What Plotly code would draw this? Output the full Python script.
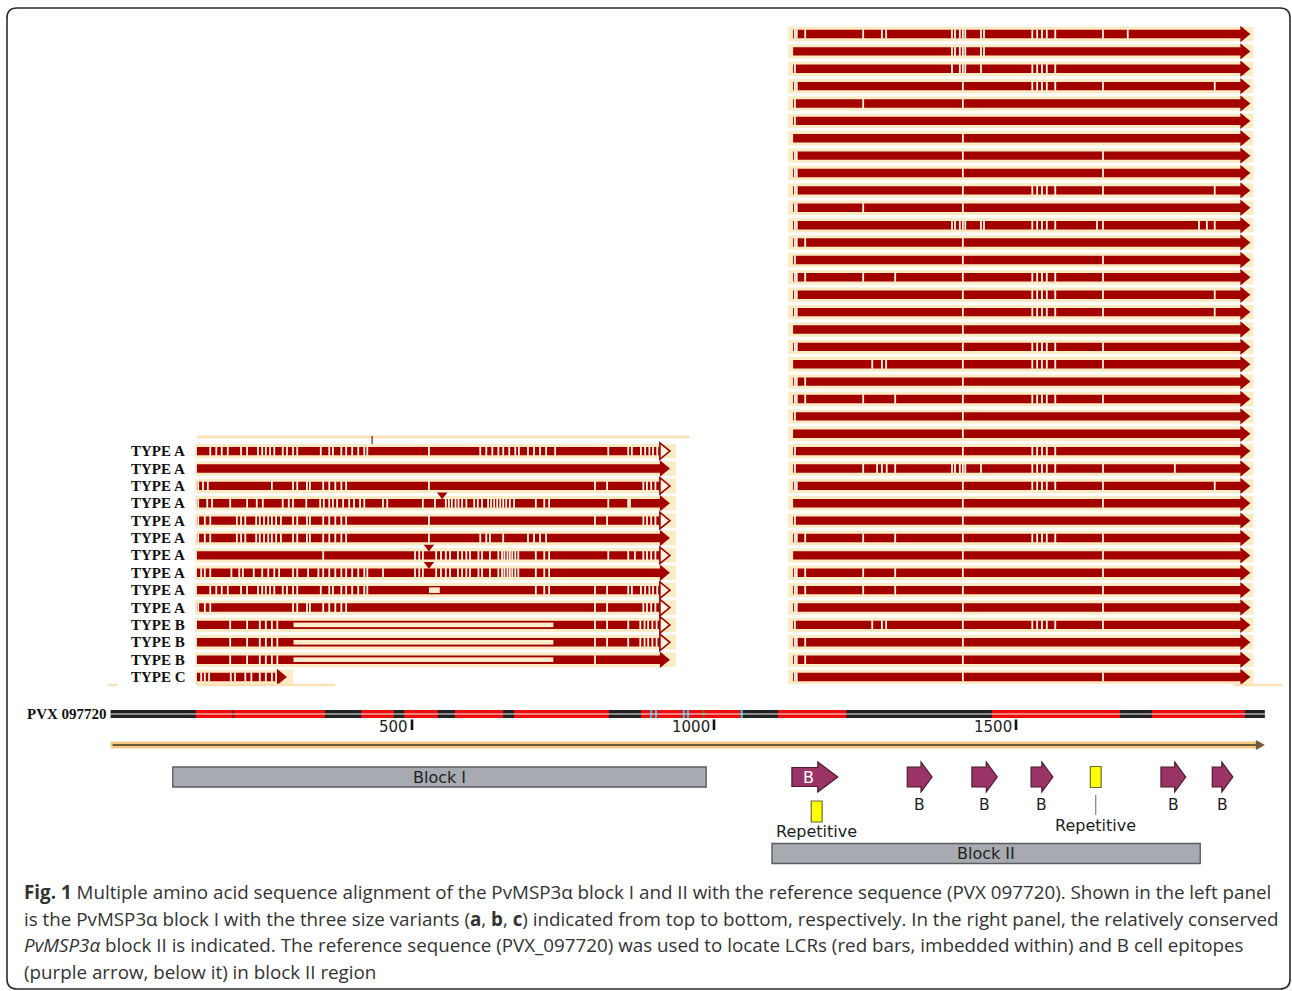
import plotly.graph_objects as go

# ---------------- data ----------------
LEFT_LABELS = ["TYPE A"] * 10 + ["TYPE B"] * 3 + ["TYPE C"]
LEFT_HOLLOW_HEAD = [1, 0, 1, 0, 1, 0, 1, 0, 1, 1, 1, 1, 0, 0]
LEFT_START = 144
LEFT_END = [927] * 13 + [293]
LEFT_VARIANTS = [
    [166, 176, 185, 195, 217, 227, 245, 252, 258, 265, 272, 286, 293, 303, 310, 349, 363, 369, 383, 391, 401, 411,
     421, 426, 528, 613, 623, 633, 643, 651, 661, 671, 677, 692, 702, 712, 722, 737, 825, 858, 864, 879, 886, 893,
     899, 906],
    [],
    [146, 154, 162, 268, 303, 310, 326, 331, 353, 363, 373, 383, 391, 528, 803, 823, 883, 889, 896, 903],
    [146, 161, 169, 199, 227, 243, 253, 286, 296, 303, 325, 348, 354, 363, 369, 376, 386, 396, 404, 414, 421, 452,
     459, 518, 538, 556, 561, 566, 572, 577, 583, 590, 603, 609, 616, 626, 631, 636, 641, 646, 651, 656, 662, 669,
     705, 719, 727, 825, 858, 861],
    [146, 157, 166, 210, 217, 224, 242, 248, 255, 262, 268, 275, 283, 303, 310, 326, 331, 353, 363, 373, 383, 391,
     528, 803, 823, 883, 889, 896, 903],
    [146, 157, 166, 210, 217, 224, 242, 248, 255, 262, 268, 275, 283, 303, 310, 326, 331, 353, 363, 373, 383, 391,
     528, 613, 623, 629, 651, 692, 702, 712, 722],
    [353, 505, 512, 518, 540, 548, 556, 563, 576, 583, 590, 596, 610, 616, 629, 643, 649, 653, 658, 662, 666, 671,
     676, 705, 719, 727, 825, 858, 869, 883, 889, 896, 903],
    [151, 157, 166, 201, 214, 220, 238, 252, 262, 272, 280, 303, 310, 328, 345, 353, 363, 373, 383, 391, 401, 411,
     421, 426, 452, 505, 512, 518, 540, 548, 556, 563, 576, 583, 590, 596, 610, 616, 629, 643, 649, 653, 658, 662,
     666, 671, 676, 705, 719, 727],
    [166, 176, 185, 195, 217, 227, 245, 252, 258, 265, 272, 286, 293, 303, 310, 349, 363, 369, 383, 391, 401, 411,
     421, 426, 705, 719, 727, 803, 823, 858, 864, 879, 886, 893, 899, 906],
    [146, 157, 166, 303, 310, 326, 331, 353, 363, 373, 383, 391, 803, 823, 883, 889, 896, 903],
    [199, 227, 248, 258, 268, 277, 803, 823, 858, 878, 885, 891, 898, 905],
    [199, 227, 248, 258, 268, 277, 803, 823, 858, 878, 885, 891, 898, 905],
    [199, 227, 248, 258, 268, 277, 803],
    [151, 157, 164, 200, 207, 224, 234, 248, 258, 268, 275],
]
DELETION_ROWS = [10, 11, 12]
DELETION_START, DELETION_END = 303, 735
GAP_ROWS = [8]
GAP_START, GAP_END = 528, 546
INSERTION_ROWS = [3, 6, 7]
INSERTION_POS = [550, 528, 528]
LEFT_TOP_MARK = 434

RIGHT_START, RIGHT_END = 1131, 1888
RIGHT_VARIANTS = [
    [1134, 1137, 1151, 1247, 1278, 1285, 1394, 1399, 1407, 1412, 1416, 1442, 1447, 1527, 1535, 1543, 1551, 1565, 1644, 1685],
    [1394, 1399, 1407, 1412, 1416, 1442, 1447],
    [1134, 1394, 1407, 1412, 1416, 1442, 1527, 1535, 1543, 1551, 1565],
    [1134, 1137, 1412, 1527, 1535, 1543, 1551, 1565, 1644, 1829],
    [1134, 1247, 1412],
    [1134],
    [1412],
    [1134, 1137, 1412, 1644],
    [1134, 1137, 1412, 1644],
    [1134, 1137, 1412, 1527, 1535, 1543, 1551, 1565, 1644, 1829],
    [1134, 1137, 1247, 1412],
    [1134, 1137, 1394, 1399, 1407, 1412, 1416, 1442, 1447, 1527, 1535, 1543, 1551, 1565, 1634, 1644, 1803, 1816, 1829],
    [1134, 1137, 1151, 1412],
    [1134, 1412, 1644],
    [1134, 1137, 1151, 1247, 1300, 1412, 1527, 1535, 1543, 1551, 1565, 1644],
    [1134, 1137, 1412, 1527, 1535, 1543, 1551, 1565, 1644, 1829],
    [1134, 1137, 1412, 1527, 1535, 1543, 1551, 1565, 1644, 1829],
    [1412],
    [1134, 1137, 1412, 1527, 1535, 1543, 1551, 1565, 1644],
    [1262, 1278, 1285, 1412, 1527, 1535, 1543, 1551, 1565, 1644],
    [1134, 1137, 1151, 1412],
    [1134, 1137, 1151, 1247, 1300, 1412, 1527, 1535, 1543, 1551, 1565, 1644],
    [1134, 1412],
    [1412],
    [1134, 1412, 1527, 1535, 1543, 1551, 1565],
    [1134, 1247, 1270, 1278, 1286, 1300, 1394, 1399, 1407, 1412, 1416, 1442, 1527, 1535, 1543, 1551, 1565, 1644, 1763],
    [1134, 1137, 1412, 1527, 1535, 1543, 1551, 1565, 1644, 1829],
    [1412, 1644],
    [1134, 1412],
    [1134, 1137, 1151, 1247, 1300, 1412, 1527, 1535, 1543, 1551, 1565, 1644],
    [1412, 1644],
    [1134, 1137, 1151, 1247, 1300, 1412, 1644],
    [1134, 1137, 1151, 1247, 1300, 1412, 1644],
    [1134, 1137, 1412, 1644],
    [1134, 1262, 1278, 1285, 1412, 1527, 1535, 1543, 1551, 1565, 1644],
    [1134, 1137, 1151, 1412],
    [1134, 1137, 1151, 1412],
    [1134, 1137, 1412, 1644],
]

REF_NAME = "PVX 097720"
REF_START, REF_END = 1, 1912
LCR_START = [142, 416, 487, 571, 669, 879, 1106, 1460, 1725]
LCR_END = [356, 470, 543, 651, 826, 1046, 1219, 1672, 1879]
CYAN_MARKS = [896, 904, 950, 957, 1046]
GREEN_MARKS = [983]
DARK_MARKS = [204]
RULER_TICKS = [500, 1000, 1500]

BLOCK_NAMES = ["Block I", "Block II"]
BLOCK_START = [104, 1096]
BLOCK_END = [987, 1805]

EPITOPE_START = [1129, 1320, 1427, 1525, 1740, 1825]
EPITOPE_END = [1205, 1361, 1469, 1561, 1781, 1859]
REPEAT_START = [1161, 1623]
REPEAT_END = [1179, 1641]

CAPTION_LINES = [
    "<b>Fig. 1</b> Multiple amino acid sequence alignment of the PvMSP3α block I and II with the reference sequence (PVX 097720). Shown in the left panel",
    "is the PvMSP3α block I with the three size variants (<b>a</b>, <b>b</b>, <b>c</b>) indicated from top to bottom, respectively. In the right panel, the relatively conserved",
    "<i>PvMSP3α</i> block II is indicated. The reference sequence (PVX_097720) was used to locate LCRs (red bars, imbedded within) and B cell epitopes",
    "(purple arrow, below it) in block II region",
]

# ---------------- layout geometry ----------------
W, H = 1292, 991
PX0 = 110.0      # pixel of residue 0
PPA = 0.604      # pixels per residue
ROW0 = 34.0      # pixel of track row 0
PPR = 17.38      # pixels per track row
A = 1.0 / PPA    # residues per pixel


def ry(py):
    return (py - ROW0) / PPR


def dy(px):
    return px / PPR


LEFT_FIRST_ROW = 24
RED = "#a30000"
CREAM = "#fdebc6"
TICK = "#fff5e2"
BODY = dy(4.2)
HEAD = dy(8.2)
BAND = dy(7.2)
HEAD_LEN = 10 * A

shapes = []


def rect(x0, x1, y0, y1, fill, lc=None, lw=0, layer="below", ref=("x", "y")):
    shapes.append(dict(type="rect", xref=ref[0], yref=ref[1], x0=x0, x1=x1, y0=y0, y1=y1,
                       fillcolor=fill, line=dict(width=lw, color=lc or fill), layer=layer))


def path(d, fill, lc=None, lw=0, layer="below"):
    shapes.append(dict(type="path", xref="x", yref="y", path=d, fillcolor=fill,
                       line=dict(width=lw, color=lc or fill), layer=layer))


def line(x0, x1, y0, y1, color, w, layer="below"):
    shapes.append(dict(type="line", xref="x", yref="y", x0=x0, x1=x1, y0=y0, y1=y1,
                       line=dict(color=color, width=w), layer=layer))


def arrow_d(x0, x1, yc, bh, hh, hl):
    xb = x1 - hl
    return (f"M {x0},{yc - bh} L {xb},{yc - bh} L {xb},{yc - hh} L {x1},{yc} "
            f"L {xb},{yc + hh} L {xb},{yc + bh} L {x0},{yc + bh} Z")


def body_d(x0, x1, yc, bh):
    return f"M {x0},{yc - bh} L {x1},{yc - bh} L {x1},{yc + bh} L {x0},{yc + bh} Z"


def head_d(xb, x1, yc, hh):
    return f"M {xb},{yc - hh} L {x1},{yc} L {xb},{yc + hh} Z"


# ---- left panel (block I alignment) ----
left_top = LEFT_FIRST_ROW - dy(14)
rect(LEFT_START, 959, left_top - dy(1.5), left_top + dy(1.5), "#fbe2b6")
line(LEFT_TOP_MARK, LEFT_TOP_MARK, left_top - dy(1), LEFT_FIRST_ROW - BODY, "#6b2a10", 1.2)
for i, end in enumerate(LEFT_END):
    yc = LEFT_FIRST_ROW + i
    rect(LEFT_START - 2 * A, end + 6 * A, yc - BAND, yc + BAND, CREAM)
    if LEFT_HOLLOW_HEAD[i]:
        path(body_d(LEFT_START, end - HEAD_LEN, yc, BODY), RED)
        path(head_d(end - HEAD_LEN, end, yc, HEAD), "#fff4e4", RED, 1.6)
    else:
        path(arrow_d(LEFT_START, end, yc, BODY, HEAD, HEAD_LEN), RED)
for r in DELETION_ROWS:
    yc = LEFT_FIRST_ROW + r
    rect(DELETION_START, DELETION_END, yc - dy(2.8), yc + dy(2.8), "#fdeccb", RED, 1)
for r in GAP_ROWS:
    yc = LEFT_FIRST_ROW + r
    rect(GAP_START, GAP_END, yc - dy(2.8), yc + dy(2.8), "#fdeccb")
bottom_y = LEFT_FIRST_ROW + len(LEFT_END) - 1 + dy(8)
rect(LEFT_START, 373, bottom_y - dy(1.2), bottom_y + dy(1.2), "#fbe2b6")
rect(-3, 13, bottom_y - dy(1.2), bottom_y + dy(1.2), "#fbe2b6")

# ---- right panel (block II alignment) ----
for i in range(len(RIGHT_VARIANTS)):
    yc = i
    rect(RIGHT_START - 5 * A, RIGHT_END + 3 * A, yc - BAND, yc + BAND, CREAM)
    path(arrow_d(RIGHT_START, RIGHT_END, yc, BODY, HEAD, HEAD_LEN), RED)
rb = len(RIGHT_VARIANTS) - 1 + dy(8)
rect(RIGHT_END - 17 * A, RIGHT_END + 32 * A, rb - dy(1.2), rb + dy(1.2), "#fbe2b6")

# ---- reference sequence ----
y_ref = ry(714)
rect(REF_START, REF_END, y_ref - dy(4), y_ref + dy(4), "#222222")
for s, e in zip(LCR_START, LCR_END):
    rect(s, e, y_ref - dy(4), y_ref + dy(4), "#ee0c0c")
for m in CYAN_MARKS:
    line(m, m, y_ref - dy(4), y_ref + dy(4), "#29c3ec", 2)
for m in GREEN_MARKS:
    line(m, m, y_ref - dy(4), y_ref + dy(4), "#2f8f2f", 1.5)
for m in DARK_MARKS:
    line(m, m, y_ref - dy(4), y_ref + dy(4), "#222222", 1.2)
line(REF_START, REF_END, y_ref, y_ref, "#f4f4f4", 1)
for t in RULER_TICKS:
    line(t, t, ry(719.5), ry(730), "#111111", 2.6)

# ---- orange direction arrow ----
y_or = ry(745)
line(REF_START, REF_END - 4 * A, y_or, y_or, "#f6c884", 7)
line(REF_START + 2 * A, REF_END - 8 * A, y_or, y_or, "#6e5c3c", 2.2)
path(head_d(REF_END - 9 * A, REF_END, y_or, dy(5)), "#6e5c3c")

# ---- blocks ----
block_rows = [ry(777), ry(853.5)]
for s, e, yc in zip(BLOCK_START, BLOCK_END, block_rows):
    rect(s, e, yc - dy(10), yc + dy(10), "#a7abb1", "#5a5d62", 1.4)

# ---- epitopes ----
y_ep = ry(777)
for k, (s, e) in enumerate(zip(EPITOPE_START, EPITOPE_END)):
    if k == 0:
        path(arrow_d(s, e, y_ep, dy(9.5), dy(15), 20 * A), "#9a3366", "#4d1a30", 1.2)
    else:
        path(arrow_d(s, e, y_ep, dy(10), dy(15), 11 * A), "#9a3366", "#4d1a30", 1.2)
rep_rows = [ry(811.5), ry(777)]
for s, e, yc in zip(REPEAT_START, REPEAT_END, rep_rows):
    rect(s, e, yc - dy(10.5), yc + dy(10.5), "#ffff00", "#6b6b3a", 1.2)
rc = (REPEAT_START[1] + REPEAT_END[1]) / 2
line(rc, rc, ry(795), ry(815), "#808080", 1.2)

# ---- frame (paper coordinates) ----
fx0, fx1 = 7 / W, 1290 / W
fyt, fyb = 1 - 8 / H, 1 - 989 / H
rx, rr = 10 / W, 10 / H
frame = (f"M {fx0 + rx},{fyt} L {fx1 - rx},{fyt} Q {fx1},{fyt} {fx1},{fyt - rr} L {fx1},{fyb + rr} "
         f"Q {fx1},{fyb} {fx1 - rx},{fyb} L {fx0 + rx},{fyb} Q {fx0},{fyb} {fx0},{fyb + rr} "
         f"L {fx0},{fyt - rr} Q {fx0},{fyt} {fx0 + rx},{fyt} Z")
shapes.append(dict(type="path", xref="paper", yref="paper", path=frame, fillcolor="rgba(0,0,0,0)",
                   line=dict(color="#2b2b2b", width=1.6), layer="above"))

# ---------------- traces ----------------
fig = go.Figure()
tx, tyv = [], []
for i, row in enumerate(LEFT_VARIANTS):
    for p in row:
        tx.append(p)
        tyv.append(LEFT_FIRST_ROW + i)
for i, row in enumerate(RIGHT_VARIANTS):
    for p in row:
        tx.append(p)
        tyv.append(i)
fig.add_trace(go.Scatter(x=tx, y=tyv, mode="markers", hoverinfo="skip",
                         marker=dict(symbol="line-ns", size=6.5, line=dict(width=1.8, color=TICK))))
fig.add_trace(go.Scatter(x=INSERTION_POS, y=[LEFT_FIRST_ROW + r - dy(8.5) for r in INSERTION_ROWS],
                         mode="markers", hoverinfo="skip",
                         marker=dict(symbol="triangle-down", size=9, color=RED)))

# ---------------- annotations ----------------
ann = []
label_font = dict(family="Liberation Serif, Times New Roman, serif", size=15, color="#111111")
for i, lab in enumerate(LEFT_LABELS):
    ann.append(dict(x=129 / W, xref="paper", y=LEFT_FIRST_ROW + i, yref="y", text=f"<b>{lab}</b>",
                    showarrow=False, xanchor="left", yanchor="middle", font=label_font))
ann.append(dict(x=108.5 / W, xref="paper", y=y_ref, yref="y", text=f"<b>{REF_NAME}</b>", showarrow=False,
                xanchor="right", yanchor="middle", font=label_font))
sans = "DejaVu Sans, Verdana, sans-serif"
for t in RULER_TICKS:
    ann.append(dict(x=t, y=ry(727), xref="x", yref="y", text=str(t), showarrow=False, xanchor="right",
                    yanchor="middle", xshift=-2, font=dict(family=sans, size=15, color="#222222")))
for name, s, e, yc in zip(BLOCK_NAMES, BLOCK_START, BLOCK_END, block_rows):
    ann.append(dict(x=(s + e) / 2, y=yc, xref="x", yref="y", text=name, showarrow=False,
                    font=dict(family=sans, size=16, color="#1e1e1e")))
ann.append(dict(x=EPITOPE_START[0] + 17 * A, y=y_ep, xref="x", yref="y", text="B", showarrow=False,
                font=dict(family=sans, size=16, color="white")))
for s, e in zip(EPITOPE_START[1:], EPITOPE_END[1:]):
    ann.append(dict(x=(s + e) / 2, y=ry(805), xref="x", yref="y", text="B", showarrow=False,
                    font=dict(family=sans, size=15.5, color="#1e1e1e")))
for (s, e), yl in zip(zip(REPEAT_START, REPEAT_END), [ry(831), ry(825)]):
    ann.append(dict(x=(s + e) / 2, y=yl, xref="x", yref="y", text="Repetitive", showarrow=False,
                    font=dict(family=sans, size=16, color="#1e1e1e")))
for k, txt in enumerate(CAPTION_LINES):
    ann.append(dict(x=22 / W, xref="paper", y=1 - (892 + 26.7 * k) / H, yref="paper", text=txt,
                    showarrow=False, xanchor="left", yanchor="middle",
                    font=dict(family="Open Sans, sans-serif", size=18.8, color="#333333")))

fig.update_layout(
    width=W, height=H, margin=dict(l=0, r=0, t=0, b=0),
    paper_bgcolor="white", plot_bgcolor="white", showlegend=False,
    xaxis=dict(range=[-PX0 / PPA, (W - PX0) / PPA], visible=False, fixedrange=True),
    yaxis=dict(range=[ry(H), ry(0)], visible=False, fixedrange=True),
    shapes=shapes, annotations=ann,
)
fig.write_html("out.html", config={"displayModeBar": False},
               post_script="document.body.style.margin='0px';")
